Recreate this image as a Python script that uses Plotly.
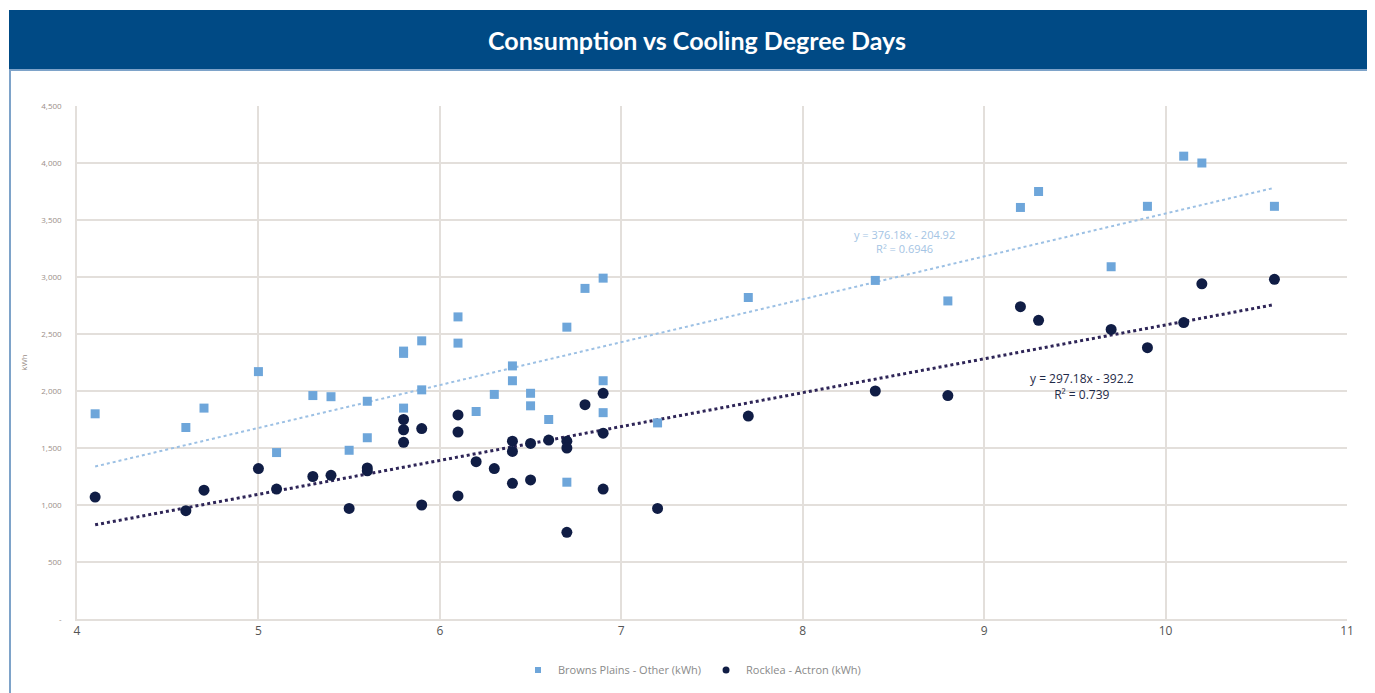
import plotly.graph_objects as go

# ---- data ----
bp_x = [4.1, 4.6, 4.7, 5.0, 5.1, 5.3, 5.4, 5.5, 5.6, 5.6, 5.8, 5.8, 5.8, 5.9, 5.9,
        6.1, 6.1, 6.2, 6.3, 6.4, 6.4, 6.5, 6.5, 6.6, 6.7, 6.7, 6.8, 6.9, 6.9, 6.9,
        7.2, 7.7, 8.4, 8.8, 9.2, 9.3, 9.7, 9.9, 10.1, 10.2, 10.6]
bp_y = [1800, 1680, 1850, 2170, 1460, 1960, 1950, 1480, 1910, 1590, 2350, 2330, 1850, 2440, 2010,
        2650, 2420, 1820, 1970, 2220, 2090, 1980, 1870, 1750, 2560, 1200, 2900, 2990, 2090, 1810,
        1720, 2820, 2970, 2790, 3610, 3750, 3090, 3620, 4060, 4000, 3620]

rk_x = [4.1, 4.6, 4.7, 5.0, 5.1, 5.3, 5.4, 5.5, 5.6, 5.6, 5.8, 5.8, 5.8, 5.9, 5.9,
        6.1, 6.1, 6.1, 6.2, 6.3, 6.4, 6.4, 6.4, 6.5, 6.5, 6.6, 6.7, 6.7, 6.7, 6.8,
        6.9, 6.9, 6.9, 7.2, 7.7, 8.4, 8.8, 9.2, 9.3, 9.7, 9.9, 10.1, 10.2, 10.6]
rk_y = [1070, 950, 1130, 1320, 1140, 1250, 1260, 970, 1325, 1300, 1750, 1660, 1550, 1670, 1000,
        1790, 1640, 1080, 1380, 1320, 1560, 1470, 1190, 1540, 1220, 1570, 1560, 1500, 760, 1880,
        1980, 1630, 1140, 970, 1780, 2000, 1960, 2740, 2620, 2540, 2380, 2600, 2940, 2980]

# trendline coefficients as displayed on the chart
bp_slope, bp_icpt, bp_r2 = 376.18, -204.92, 0.6946
rk_slope, rk_icpt, rk_r2 = 297.18, -392.2, 0.739

series_names = ["Browns Plains - Other (kWh)", "Rocklea - Actron (kWh)"]
title_text = "Consumption vs Cooling Degree Days"
y_ticks = [0, 500, 1000, 1500, 2000, 2500, 3000, 3500, 4000, 4500]
y_tick_labels = ["-", "500", "1,000", "1,500", "2,000", "2,500", "3,000", "3,500", "4,000", "4,500"]
x_ticks = [4, 5, 6, 7, 8, 9, 10, 11]

# ---- styling ----
LIGHT = "#6ea6da"
DARK = "#101d45"
HEADER = "#004a85"
BORDER = "#7ea3c9"
GRID = "#e3dfdb"

OFF = 8  # page body margin in the browser
PAGE_W, PAGE_H = 1375, 693
W, H = PAGE_W - OFF, PAGE_H - OFF
# plot area in page pixels
P_L, P_R, P_T, P_B = 77, 1347, 106, 619
L, R, T, B = P_L - OFF, W - (P_R - OFF), P_T - OFF, H - (P_B - OFF)
pw, ph = P_R - P_L, P_B - P_T


def px_to_paper_x(px):
    return (px - P_L) / pw


def px_to_paper_y(py):
    return (P_B - py) / ph


fig = go.Figure()


def trend(xs, slope, icpt):
    x0, x1 = min(xs), max(xs)
    return [x0, x1], [slope * x0 + icpt, slope * x1 + icpt]


tx, ty = trend(bp_x, bp_slope, bp_icpt)
fig.add_trace(go.Scatter(x=tx, y=ty, mode="lines", showlegend=False, hoverinfo="skip",
                         line=dict(color="#9cc0e4", width=2, dash="dot")))
tx2, ty2 = trend(rk_x, rk_slope, rk_icpt)
fig.add_trace(go.Scatter(x=tx2, y=ty2, mode="lines", showlegend=False, hoverinfo="skip",
                         line=dict(color="#2e2557", width=3, dash="dot")))

fig.add_trace(go.Scatter(x=bp_x, y=bp_y, mode="markers", name=series_names[0], showlegend=False,
                         legendgroup="bp",
                         marker=dict(symbol="square", size=9, color=LIGHT)))
fig.add_trace(go.Scatter(x=rk_x, y=rk_y, mode="markers", name=series_names[1], showlegend=False,
                         legendgroup="rk",
                         marker=dict(symbol="circle", size=11, color=DARK)))
# legend entries with small symbols
fig.add_trace(go.Scatter(x=[None], y=[None], mode="markers", name=series_names[0],
                         legendgroup="bp", marker=dict(symbol="square", size=6, color=LIGHT)))
fig.add_trace(go.Scatter(x=[None], y=[None], mode="markers", name=series_names[1],
                         legendgroup="rk", marker=dict(symbol="circle", size=7, color=DARK)))

shapes = [
    dict(type="rect", xref="paper", yref="paper",
         x0=px_to_paper_x(9), x1=px_to_paper_x(1369),
         y0=px_to_paper_y(70), y1=px_to_paper_y(10),
         fillcolor=HEADER, line=dict(width=0), layer="below"),
    dict(type="rect", xref="paper", yref="paper",
         x0=px_to_paper_x(10), x1=px_to_paper_x(1368),
         y0=px_to_paper_y(720), y1=px_to_paper_y(70),
         fillcolor="rgba(0,0,0,0)", line=dict(width=2, color=BORDER), layer="below"),
]

annotations = [
    dict(xref="x", yref="y", x=8.56, y=3310, showarrow=False,
         text=f"y = {bp_slope}x - {abs(bp_icpt)}<br>R² = {bp_r2}",
         font=dict(family="Open Sans", size=11, color="#a4c4e4"), align="center",
         yanchor="middle"),
    dict(xref="x", yref="y", x=9.54, y=2040, showarrow=False,
         text=f"y = {rk_slope}x - {abs(rk_icpt)}<br>R² = {rk_r2}",
         font=dict(family="Open Sans", size=12, color="#1f2a48"), align="center",
         yanchor="middle"),
]

fig.update_layout(
    width=W, height=H,
    margin=dict(l=L, r=R, t=T, b=B, autoexpand=False),
    paper_bgcolor="white", plot_bgcolor="white",
    title=dict(text=f"<b>{title_text}</b>", x=(697 - OFF) / W, xref="container", xanchor="center",
               y=1 - (41 - OFF) / H, yref="container", yanchor="middle",
               font=dict(family="Lato", size=25, color="white")),
    shapes=shapes,
    annotations=annotations,
    showlegend=True,
    legend=dict(orientation="h", x=px_to_paper_x(692), xanchor="center", y=px_to_paper_y(670),
                yanchor="middle", font=dict(family="Open Sans", size=11, color="#8a8a8a"),
                bgcolor="rgba(0,0,0,0)", itemwidth=30),
    xaxis=dict(range=[4, 11], tickvals=x_ticks, showgrid=True, gridcolor=GRID, gridwidth=1.5,
               zeroline=False, showline=True, linecolor=GRID, linewidth=1.5,
               tickfont=dict(family="Open Sans", size=12, color="#555555"), ticks=""),
    yaxis=dict(range=[0, 4500], tickvals=y_ticks, ticktext=y_tick_labels, showgrid=True,
               gridcolor=GRID, gridwidth=1.5, zeroline=False, showline=True, linecolor=GRID,
               linewidth=1.5, ticks="", ticklabelstandoff=12,
               tickfont=dict(family="Open Sans", size=8, color="#9a8e88"),
               title=dict(text="kWh", standoff=12,
                          font=dict(family="Open Sans", size=8, color="#9a8e88"))),
)

fig.write_html("out.html")
